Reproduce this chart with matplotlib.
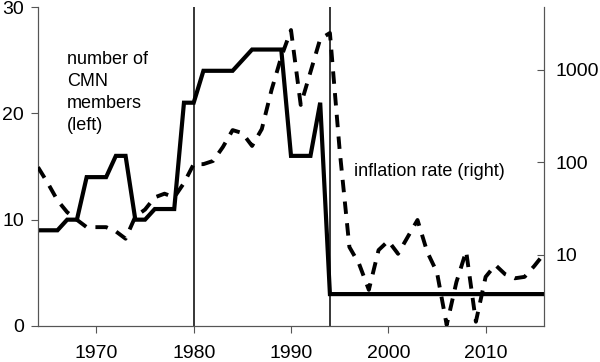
import numpy as np
import matplotlib.pyplot as plt
from matplotlib.ticker import FixedLocator, NullLocator, FixedFormatter

plt.rcParams['font.family'] = ['Liberation Sans', 'DejaVu Sans']

# годы 1964-2016
years = list(range(1964, 2017))

# число членов CMN (левая ось)
members = [9, 9, 9, 10, 10, 14, 14, 14, 16, 16,
           10, 10, 11, 11, 11, 21, 21, 24, 24, 24,
           24, 25, 26, 26, 26, 26, 16, 16, 16, 21,
           3, 3, 3, 3, 3, 3, 3, 3, 3, 3,
           3, 3, 3, 3, 3, 3, 3, 3, 3, 3,
           3, 3, 3]

# инфляция, % (правая ось, лог. шкала)
inflation = [89, 60, 39, 29, 24, 20, 20, 20, 18, 15,
             26, 31, 42, 46, 42, 60, 96, 96, 104, 147,
             224, 208, 151, 230, 608, 1384, 2704, 419, 951, 2163,
             2512, 136, 12.2, 8.0, 4.2, 11.3, 14.2, 10.3, 15.7, 23.9,
             10.8, 6.5, 1.75, 5.1, 11.0, 1.9, 5.8, 7.8, 6.2, 5.6,
             5.8, 7.6, 10.3]

left_ticks = [0, 10, 20, 30]
right_ticks = [10, 100, 1000]
x_ticks = [1970, 1980, 1990, 2000, 2010]
event_years = [1980, 1994]

fig = plt.figure(figsize=(6, 3.62), dpi=100)
ax = fig.add_axes([38 / 600, 1 - 326 / 362, (544 - 38) / 600, (326 - 7) / 362])
ax2 = ax.twinx()

spine_color = '#555555'

ax.plot(years, members, color='black', lw=3, solid_joinstyle='miter', zorder=3)
ax2.plot(years, inflation, color='black', lw=2.8, linestyle=(0, (3.2, 2.4)), zorder=3)

for yr in event_years:
    ax.axvline(yr, color='black', lw=1.1)

ax.set_xlim(1964, 2016)
ax.set_ylim(0, 30)
ax2.set_yscale('log')
ax2.set_ylim(10 ** 0.2324, 10 ** 3.681)

ax.set_yticks(left_ticks)
ax.set_xticks(x_ticks)
ax2.yaxis.set_major_locator(FixedLocator(right_ticks))
ax2.yaxis.set_major_formatter(FixedFormatter([str(t) for t in right_ticks]))
ax2.yaxis.set_minor_locator(NullLocator())

ax.tick_params(axis='y', direction='out', length=5, width=0.8, color=spine_color,
               labelsize=14, pad=5)
ax.tick_params(axis='x', direction='out', length=5, width=0.8, color=spine_color,
               labelsize=14, pad=9)
ax2.tick_params(axis='y', direction='in', length=5, width=0.8, color=spine_color,
                labelsize=14, pad=8)

for a in (ax, ax2):
    a.spines['top'].set_visible(False)
    for s in ('left', 'right', 'bottom'):
        a.spines[s].set_color(spine_color)
        a.spines[s].set_linewidth(0.8)

ax.text(1967, 25.9, 'number of\nCMN\nmembers\n(left)', fontsize=13, va='top',
        ha='left', linespacing=1.4)
ax.text(1996.5, 14.5, 'inflation rate (right)', fontsize=13, va='center', ha='left')

fig.savefig('out.png', dpi=100)
